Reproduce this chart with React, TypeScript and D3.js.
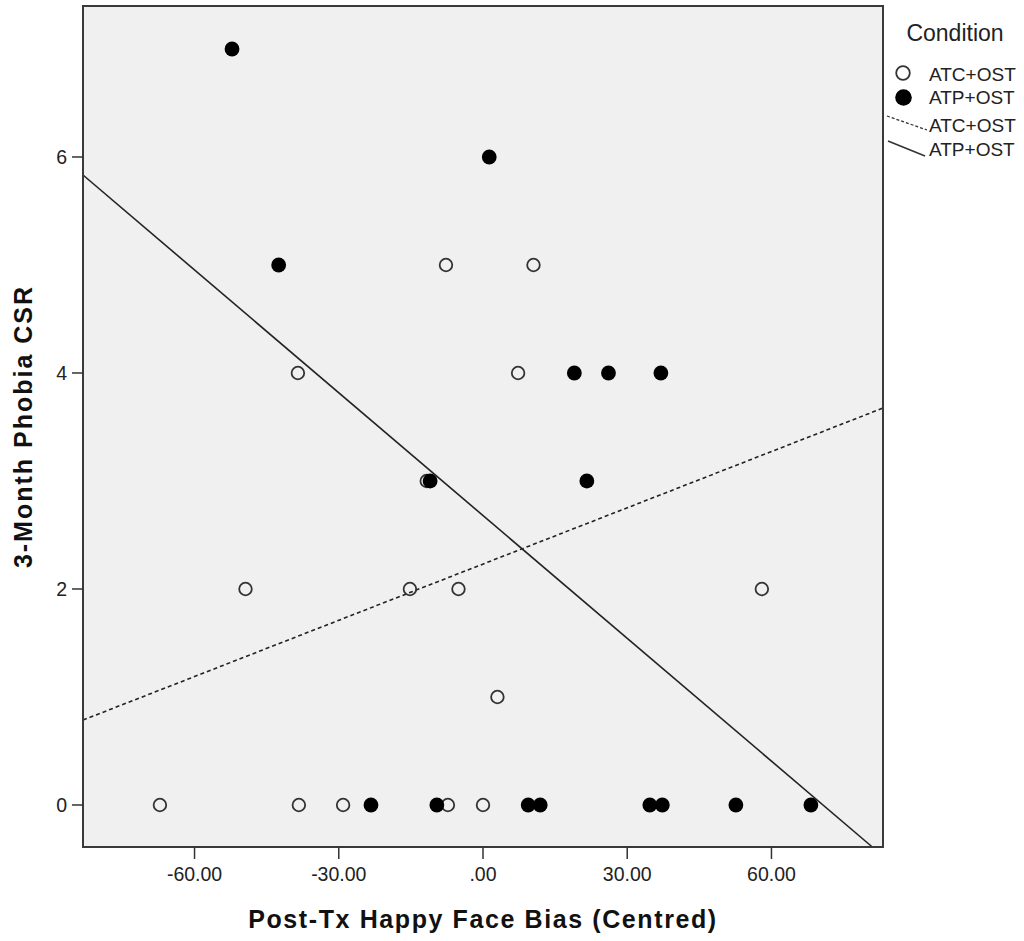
import * as d3 from "d3";

// ATC+OST (open circles)
const atcX = [-67.2, -38.3, -29.1, -7.3, 0.0, 3.0, -49.4, -15.2, -5.1, 58.0, -11.7, -38.5, 7.3, -7.7, 10.5];
const atcY = [0, 0, 0, 0, 0, 1, 2, 2, 2, 2, 3, 4, 4, 5, 5];

// ATP+OST (filled circles)
const atpX = [-23.3, -9.6, 9.4, 11.9, 34.7, 37.3, 52.6, 68.2, -11.0, 21.6, 19.0, 26.1, 37.0, -42.5, 1.3, -52.2];
const atpY = [0, 0, 0, 0, 0, 0, 0, 0, 3, 3, 4, 4, 4, 5, 6, 7];

// fit lines: [intercept, slope]
const atcFit = [2.231, 0.01736];
const atpFit = [2.68, -0.0379];

const xTicks = [-60, -30, 0, 30, 60];
const yTicks = [0, 2, 4, 6];
const legendLabels = ["ATC+OST", "ATP+OST", "ATC+OST", "ATP+OST"];

const font = "'Liberation Sans', Arial, sans-serif";

const W = 1024;
const H = 941;
const left = 83;
const right = 883;
const top = 6;
const bottom = 847;

const x = d3.scaleLinear().domain([-83.2, 83.2]).range([left, right]);
const y = d3.scaleLinear().domain([-0.389, 7.398]).range([bottom, top]);

// SPSS style: "-60.00", ".00"
const fmtX = (v: number) => {
  const s = d3.format(".2f")(v).replace("\u2212", "-");
  return s.replace(/^0\./, ".").replace(/^-0\./, "-.");
};

function fitLine(fit: number[]) {
  const [a, b] = fit;
  const [x0, x1] = x.domain();
  const [y0, y1] = y.domain();
  // clip to plot area
  let xa = x0;
  let xb = x1;
  if (b !== 0) {
    const xs = [(y0 - a) / b, (y1 - a) / b].sort((p, q) => p - q);
    xa = Math.max(xa, xs[0]);
    xb = Math.min(xb, xs[1]);
  }
  const pts: [number, number][] = [[xa, a + b * xa], [xb, a + b * xb]];
  return d3.line<[number, number]>()
    .x((d) => x(d[0]))
    .y((d) => y(d[1]))(pts) as string;
}

export default function App() {
  const atc = atcX.map((v, i) => [v, atcY[i]]);
  const atp = atpX.map((v, i) => [v, atpY[i]]);
  return (
    <svg
      width={W}
      height={H}
      style={{ position: "absolute", left: 0, top: 0, background: "#fff" }}
      fontFamily={font}
    >
      <rect x={left} y={top} width={right - left} height={bottom - top} fill="#f0f0f0" />

      <path d={fitLine(atcFit)} fill="none" stroke="#222" strokeWidth={1.6} strokeDasharray="4,3" />
      <path d={fitLine(atpFit)} fill="none" stroke="#222" strokeWidth={1.6} />

      {atc.map((d, i) => (
        <circle key={"c" + i} cx={x(d[0])} cy={y(d[1])} r={6.3} fill="none" stroke="#333" strokeWidth={1.8} />
      ))}
      {atp.map((d, i) => (
        <circle key={"p" + i} cx={x(d[0])} cy={y(d[1])} r={7.4} fill="#000" />
      ))}

      <rect x={left} y={top} width={right - left} height={bottom - top} fill="none" stroke="#3a3a3a" strokeWidth={2} />

      {xTicks.map((t) => (
        <g key={"x" + t} transform={`translate(${x(t)},${bottom})`}>
          <line y1={0} y2={12} stroke="#333" strokeWidth={1.5} />
          <text y={34} textAnchor="middle" fontSize={19.5} fill="#222">{fmtX(t)}</text>
        </g>
      ))}
      {yTicks.map((t) => (
        <g key={"y" + t} transform={`translate(${left},${y(t)})`}>
          <line x1={0} x2={-11} stroke="#333" strokeWidth={1.5} />
          <text x={-16} dy="0.36em" textAnchor="end" fontSize={19.5} fill="#222">{t}</text>
        </g>
      ))}

      <text x={(left + right) / 2} y={928} textAnchor="middle" fontSize={25} fontWeight="bold" letterSpacing={1.6} fill="#111">
        Post-Tx Happy Face Bias (Centred)
      </text>
      <text
        transform={`translate(32,${(top + bottom) / 2}) rotate(-90)`}
        textAnchor="middle"
        fontSize={25}
        fontWeight="bold"
        letterSpacing={2}
        fill="#111"
      >
        3-Month Phobia CSR
      </text>

      <g fontSize={19} fill="#222">
        <text x={955} y={41} textAnchor="middle" fontSize={23}>Condition</text>
        <circle cx={903} cy={73} r={6.8} fill="none" stroke="#333" strokeWidth={1.8} />
        <circle cx={903.5} cy={97.5} r={8.3} fill="#000" />
        <line x1={887} y1={116} x2={927} y2={130} stroke="#333" strokeWidth={1.3} strokeDasharray="3,2" />
        <line x1={888} y1={141} x2={925} y2={156} stroke="#333" strokeWidth={1.6} />
        {legendLabels.map((l, i) => (
          <text key={"l" + i} x={929} y={[80.5, 104, 132, 155.5][i]}>{l}</text>
        ))}
      </g>
    </svg>
  );
}
